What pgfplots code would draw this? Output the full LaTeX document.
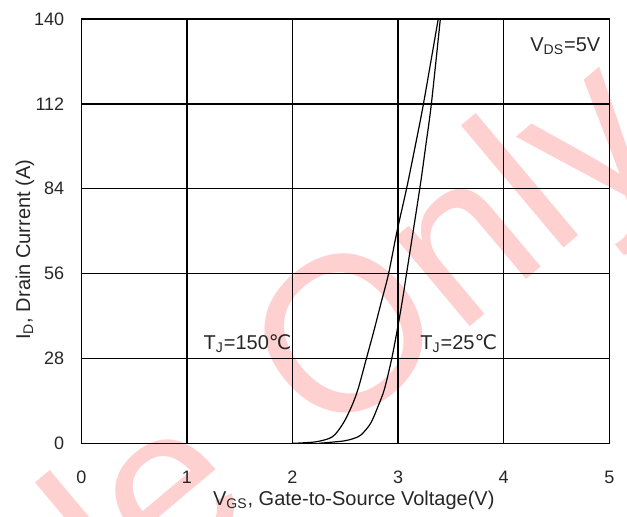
\documentclass[border=0pt]{standalone}
\usepackage{pgfplots}
\pgfplotsset{compat=1.18}
\usepackage{fontspec}
\setmainfont{Liberation Sans}
\newfontfamily\dejavu{DejaVu Sans}
\definecolor{wm}{RGB}{255,208,208}
\begin{document}
\begin{tikzpicture}
% watermark (drawn first, under the grid)
\node[anchor=base west, rotate=40, text=wm, inner sep=0pt, font=\fontsize{110}{110}\selectfont] at (123.1pt,-1.6pt) {Only};
\node[anchor=base east, rotate=40, text=wm, inner sep=0pt, font=\fontsize{110}{110}\selectfont] at (88.6pt,-30.6pt) {Sample\ };
\begin{axis}[
  width=264pt, height=212.15pt, scale only axis,
  xmin=0, xmax=5, ymin=0, ymax=140,
  xtick={0,1,2,3,4,5}, ytick={0,28,56,84,112,140},
  grid=major,
  major grid style={black, line width=0.7pt},
  axis line style={black, line width=0.7pt},
  major tick length=0pt,
  /pgf/number format/assume math mode=true,
  tick label style={font=\fontsize{9}{10}\selectfont, text=black!85},
  xticklabel style={yshift=-10.5pt},
  yticklabel style={xshift=-5pt},
  label style={font=\fontsize{10}{12}\selectfont, text=black!85},
  xlabel={V\textsubscript{GS}, Gate-to-Source Voltage(V)},
  ylabel={I\textsubscript{D}, Drain Current (A)},
  xlabel style={at={(axis description cs:0.516,-0.1456)}, anchor=base},
  ylabel style={at={(axis description cs:-0.097,0.456)}, anchor=base, rotate=0},
  clip=false,
]
\addplot[black, line width=0.6pt, smooth] coordinates {
  (2.00,0) (2.10,0.15) (2.24,0.6) (2.38,2.2) (2.48,6.6) (2.56,12.2) (2.62,17.8)
  (2.70,28) (2.77,37) (2.84,46.5) (2.91,56) (2.99,70) (3.08,84) (3.16,97.7)
  (3.24,112) (3.38,140)
};
\addplot[black, line width=0.6pt, smooth] coordinates {
  (2.25,0) (2.35,0.3) (2.49,0.8) (2.58,1.6) (2.65,2.8) (2.74,6.6) (2.81,12.2)
  (2.87,17.8) (2.94,28) (2.995,38) (3.04,47) (3.08,56) (3.205,84) (3.26,97.7)
  (3.315,112) (3.40,140)
};
\node[anchor=base west, inner sep=0pt, font=\fontsize{10}{12}\selectfont, text=black!85] at (axis cs:4.249,129.2) {V\textsubscript{DS}=5V};
\node[anchor=base west, inner sep=0pt, font=\fontsize{10}{12}\selectfont, text=black!85] at (axis cs:1.155,30.8) {T\textsubscript{J}=150{\dejavu ℃}};
\node[anchor=base west, inner sep=0pt, font=\fontsize{10}{12}\selectfont, text=black!85] at (axis cs:3.207,31.1) {T\textsubscript{J}=25{\dejavu ℃}};
\end{axis}
\pgfresetboundingbox
\path[use as bounding box] (-40.65pt,-36.35pt) rectangle (272.85pt,221.65pt);
\end{tikzpicture}
\end{document}
